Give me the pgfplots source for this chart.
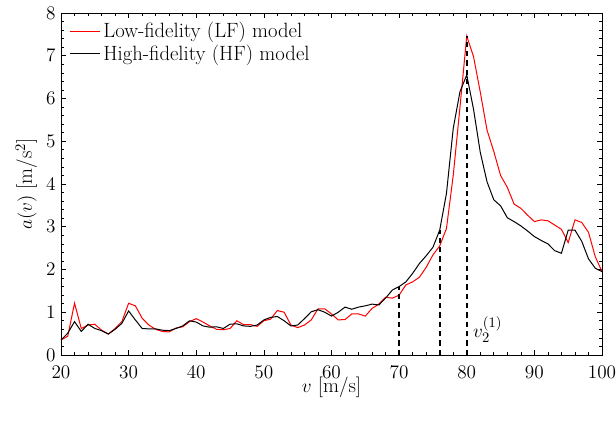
\documentclass[border=0pt]{standalone}
\usepackage{pgfplots}
\pgfplotsset{compat=1.18}
\pgfplotsset{legend image code/.code={\draw[#1] (0pt,0pt) -- (23pt,0pt);}}
\usepackage{pgfplotstable}
\pgfplotstableread{
v lf hf
20 0.35 0.35
21 0.44 0.51
22 1.21 0.78
23 0.62 0.55
24 0.70 0.72
25 0.72 0.62
26 0.58 0.57
27 0.49 0.49
28 0.62 0.60
29 0.78 0.74
30 1.21 1.03
31 1.15 0.82
32 0.86 0.62
33 0.70 0.61
34 0.60 0.61
35 0.55 0.58
36 0.54 0.57
37 0.63 0.62
38 0.66 0.68
39 0.78 0.80
40 0.85 0.77
41 0.77 0.68
42 0.68 0.65
43 0.60 0.66
44 0.59 0.62
45 0.62 0.72
46 0.80 0.73
47 0.71 0.68
48 0.71 0.67
49 0.67 0.70
50 0.80 0.82
51 0.84 0.88
52 1.04 0.90
53 1.00 0.80
54 0.70 0.68
55 0.64 0.70
56 0.70 0.85
57 0.82 1.01
58 1.08 1.06
59 1.08 1.00
60 0.96 0.91
61 0.82 1.00
62 0.83 1.12
63 0.96 1.07
64 0.96 1.12
65 0.91 1.15
66 1.09 1.19
67 1.19 1.17
68 1.35 1.33
69 1.33 1.52
70 1.40 1.60
71 1.64 1.71
72 1.71 1.91
73 1.82 2.14
74 2.05 2.32
75 2.34 2.52
76 2.55 2.92
77 2.96 3.78
78 4.20 5.30
79 5.80 6.16
80 7.46 6.55
81 6.98 5.75
82 6.15 4.74
83 5.26 4.05
84 4.76 3.63
85 4.20 3.49
86 3.92 3.21
87 3.53 3.12
88 3.43 3.02
89 3.27 2.90
90 3.12 2.77
91 3.16 2.68
92 3.14 2.60
93 3.04 2.44
94 2.94 2.38
95 2.63 2.92
96 3.16 2.92
97 3.10 2.66
98 2.87 2.25
99 2.30 2.03
100 1.95 1.95
}\datatable
\begin{document}
\begin{tikzpicture}
\begin{axis}[
  scale only axis, width=405.75pt, height=256.5pt,
  xmin=20, xmax=100, ymin=0, ymax=8,
  xtick={20,30,...,100}, ytick={0,1,...,8},
  minor x tick num=4, minor y tick num=4,
  tick align=inside, tick pos=both,
  major tick length=4pt, minor tick length=2.3pt,
  every tick/.style={black, line width=0.5pt},
  axis line style={line width=0.6pt},
  font=\fontsize{15.5}{18}\selectfont,
  tick label style={font=\fontsize{15}{17}\selectfont},
  xticklabel style={yshift=-4.5pt},
  yticklabel style={xshift=-0.5pt},
  xlabel={$v$ [m/s]}, ylabel={$a(v)$ [m/s$^2$]},
  xlabel style={at={(axis description cs:0.5,-0.094)}, anchor=center},
  ylabel style={at={(axis description cs:-0.064,0.5)}, anchor=center},
  legend style={at={(axis description cs:0.012,0.985)}, anchor=north west, draw=none, fill=none,
    font=\fontsize{15.5}{18}\selectfont, row sep=0pt, inner sep=1pt},
  legend cell align=left,
  clip=false,
]
\addplot[red, line width=0.75pt] table[x=v, y=lf] {\datatable};
\addlegendentry{Low-fidelity (LF) model}
\addplot[black, line width=0.75pt] table[x=v, y=hf] {\datatable};
\addlegendentry{High-fidelity (HF) model}
\addplot[black, line width=1.4pt, dash pattern=on 4pt off 3pt, forget plot] coordinates {(70,0) (70,1.60)};
\addplot[black, line width=1.4pt, dash pattern=on 4pt off 3pt, forget plot] coordinates {(76,0) (76,2.92)};
\addplot[black, line width=1.4pt, dash pattern=on 4pt off 3pt, forget plot] coordinates {(80,0) (80,7.46)};
\node[anchor=base west, inner sep=0pt, font=\fontsize{15.5}{18}\selectfont] at (axis cs:80.9,0.40) {$v_2^{(1)}$};
\end{axis}
\pgfresetboundingbox
\path[use as bounding box] ([xshift=-45.75pt,yshift=-49.5pt]current axis.south west) rectangle ([xshift=10.5pt,yshift=9.75pt]current axis.north east);
\end{tikzpicture}
\end{document}
